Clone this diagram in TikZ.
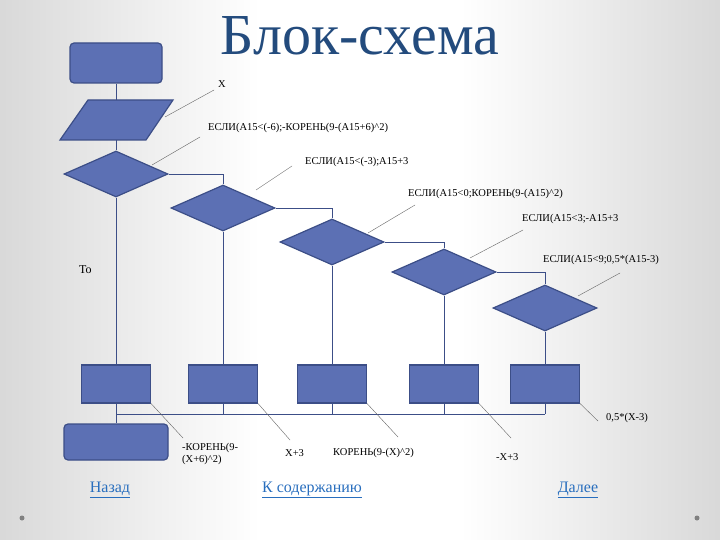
\documentclass[tikz,border=0pt]{standalone}
\usepackage{fontspec}
\setmainfont{Liberation Serif}
\usetikzlibrary{shapes.geometric}
\definecolor{bfill}{RGB}{92,112,180}
\definecolor{bdraw}{RGB}{60,78,135}
\definecolor{lnk}{RGB}{40,110,190}
\definecolor{ttl}{RGB}{35,75,125}
\begin{document}
\begin{tikzpicture}[x=1pt,y=-1pt,
  blk/.style={fill=bfill,draw=bdraw,line width=1.2pt},
  rbox/.style={blk,rectangle,minimum width=69pt,minimum height=38pt,inner sep=0},
  dia/.style={blk,diamond,aspect=2.25,minimum width=104pt,minimum height=46pt,inner sep=0},
  flow/.style={draw=bdraw,line width=0.8pt},
  call/.style={draw=gray!80!black,line width=0.4pt},
  lbl/.style={font=\fontsize{10.5}{12}\selectfont,anchor=west,inner sep=0},
  link/.style={font=\fontsize{16}{17}\selectfont,text=lnk,inner sep=0}]
\useasboundingbox (0,0) rectangle (720,540);
\shade[left color=gray!30,right color=white] (0,0) rectangle (260,540);
\fill[white] (260,0) rectangle (460,540);
\shade[left color=white,right color=gray!30] (460,0) rectangle (720,540);
\node[text=ttl,font=\fontsize{58}{58}\selectfont] (title) at (360,36) {Блок-схема};
% shapes
\node[blk,rectangle,rounded corners=4pt,minimum width=92pt,minimum height=40pt] (start) at (116,63) {};
\draw[blk] (88,100) -- (173,100) -- (146,140) -- (60,140) -- cycle;
\node[rectangle,minimum width=86pt,minimum height=40pt,inner sep=0] (io) at (116,120) {};
\node[dia] (d1) at (116,174) {};
\node[dia] (d2) at (223,208) {};
\node[dia] (d3) at (332,242) {};
\node[dia] (d4) at (444,272) {};
\node[dia] (d5) at (545,308) {};
\node[rbox] (r1) at (116,384) {};
\node[rbox] (r2) at (223,384) {};
\node[rbox] (r3) at (332,384) {};
\node[rbox] (r4) at (444,384) {};
\node[rbox] (r5) at (545,384) {};
\node[blk,rectangle,rounded corners=4pt,minimum width=104pt,minimum height=36pt] (end) at (116,442) {};
\coordinate (m1) at (116,414);
\coordinate (m5) at (545,414);
% flow
\draw[flow] (start) -- (io);
\draw[flow] (io) -- (d1);
\draw[flow] (d1.east) -| (d2.north);
\draw[flow] (d2.east) -| (d3.north);
\draw[flow] (d3.east) -| (d4.north);
\draw[flow] (d4.east) -| (d5.north);
\draw[flow] (d1.south) -- (r1.north);
\draw[flow] (d2.south) -- (r2.north);
\draw[flow] (d3.south) -- (r3.north);
\draw[flow] (d4.south) -- (r4.north);
\draw[flow] (d5.south) -- (r5.north);
\foreach \r in {r1,r2,r3,r4,r5}{\draw[flow] (\r.south) -- (\r.south |- m1);}
\draw[flow] (m1) -- (m5);
\draw[flow] (m1) -- (end.north);
% labels
\node[lbl] (lx) at (218,84) {X};
\node[lbl] (l1) at (208,128) {ЕСЛИ(А15<(-6);-КОРЕНЬ(9-(А15+6)\textasciicircum2)};
\node[lbl] (l2) at (305,162) {ЕСЛИ(А15<(-3);А15+3};
\node[lbl] (l3) at (408,194) {ЕСЛИ(А15<0;КОРЕНЬ(9-(А15)\textasciicircum2)};
\node[lbl] (l4) at (522,219) {ЕСЛИ(А15<3;-А15+3};
\node[lbl] (l5) at (543,260) {ЕСЛИ(А15<9;0,5*(А15-3)};
\node[lbl,font=\fontsize{12}{13}\selectfont] (to) at (79,270) {То};
\node[lbl,align=left,anchor=north west] (b1) at (182,443) {-КОРЕНЬ(9-\\(X+6)\textasciicircum2)};
\node[lbl] (b2) at (285,453) {X+3};
\node[lbl] (b3) at (333,453) {КОРЕНЬ(9-(X)\textasciicircum2)};
\node[lbl] (b4) at (496,457) {-X+3};
\node[lbl] (b5) at (606,418) {0,5*(X-3)};
% callouts
\coordinate (cx) at (214,90); \draw[call] (165,117) -- (cx);
\coordinate (c1) at (200,137); \draw[call] (152,165) -- (c1);
\coordinate (c2) at (292,166); \draw[call] (256,190) -- (c2);
\coordinate (c3) at (415,205); \draw[call] (368,233) -- (c3);
\coordinate (c4) at (523,230); \draw[call] (470,258) -- (c4);
\coordinate (c5) at (620,273); \draw[call] (578,296) -- (c5);
\draw[call] (r1.south east) -- (183,438);
\draw[call] (r2.south east) -- (290,440);
\draw[call] (r3.south east) -- (398,437);
\draw[call] (r4.south east) -- (511,438);
\draw[call] (r5.south east) -- (598,421);
% links
\node[link] (back) at (110,490) {\underline{Назад}};
\node[link] (toc) at (312,490) {\underline{К содержанию}};
\node[link] (next) at (578,490) {\underline{Далее}};
\fill[gray] (22,518) circle (2.5);
\fill[gray] (697,518) circle (2.5);
\end{tikzpicture}
\end{document}
